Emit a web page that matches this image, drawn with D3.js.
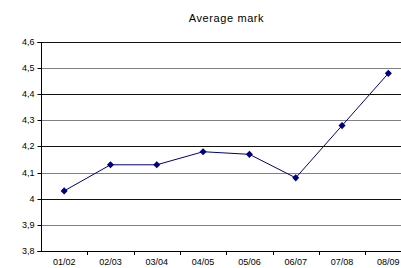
<!DOCTYPE html>
<html><head><meta charset="utf-8">
<script src="https://cdn.jsdelivr.net/npm/d3@7"></script>
<style>body{margin:0;background:#fff;overflow:hidden}svg{display:block}text{font-family:"Liberation Sans",Arial,sans-serif}</style>
</head><body>
<svg id="c" width="401" height="268"></svg>
<script>
const categories = ["01/02","02/03","03/04","04/05","05/06","06/07","07/08","08/09"];
const values = [4.03, 4.13, 4.13, 4.18, 4.17, 4.08, 4.28, 4.48];
const yTicks = [3.8, 3.9, 4.0, 4.1, 4.2, 4.3, 4.4, 4.5, 4.6];
const title = "Average mark";

const svg = d3.select("#c");
const m = {left: 41, top: 42, right: 411.5, bottom: 251};
const x = d3.scaleBand().domain(categories).range([m.left, m.right]);
const y = d3.scaleLinear().domain([3.8, 4.6]).range([m.bottom, m.top]);
const fmt = v => (Math.round(v*10)/10).toString().replace(".", ",");

// gridlines
svg.append("g").selectAll("line").data(yTicks.filter(t => t > 3.8)).join("line")
  .attr("x1", m.left).attr("x2", 401)
  .attr("y1", d => Math.round(y(d)) + 0.5).attr("y2", d => Math.round(y(d)) + 0.5)
  .attr("stroke", d => (Math.round(d*10) % 2 === 1) ? "#808080" : "#111")
  .attr("stroke-width", 1.2);

// y axis
const ya = svg.append("g").attr("transform", `translate(${m.left + 0.5},0)`)
  .call(d3.axisLeft(y).tickValues(yTicks).tickFormat(fmt).tickSize(4).tickPadding(3));
ya.select(".domain").attr("stroke", "#000").attr("d", `M-4,${Math.round(m.top)+0.5}H0V${m.bottom+0.5}H-4`);
ya.selectAll(".tick line").attr("stroke", "#000");
ya.selectAll(".tick").attr("transform", d => `translate(0,${Math.round(y(d))+0.5})`);
ya.selectAll("text").attr("font-size", "9px").attr("fill", "#000")
  .style("font-family", '"Liberation Sans",Arial,sans-serif');

// x axis
const xa = svg.append("g").attr("transform", `translate(0,${m.bottom + 0.5})`)
  .call(d3.axisBottom(x).tickSize(0).tickPadding(7));
xa.select(".domain").attr("stroke", "#000").attr("d", `M${m.left},0H${m.right}`);
xa.selectAll("text").attr("font-size", "9px").attr("fill", "#000")
  .style("font-family", '"Liberation Sans",Arial,sans-serif');
// category boundary ticks
const bounds = categories.map(c => x(c)).concat([m.right]).slice(1);
svg.append("g").selectAll("line").data(bounds).join("line")
  .attr("x1", d => Math.round(d)+0.5).attr("x2", d => Math.round(d)+0.5)
  .attr("y1", m.bottom).attr("y2", m.bottom + 4).attr("stroke", "#000");

// line
const cx = d => x(d) + x.bandwidth()/2;
const line = d3.line().x((d,i) => cx(categories[i])).y(d => y(d));
svg.append("path").datum(values).attr("d", line)
  .attr("fill", "none").attr("stroke", "#000080").attr("stroke-width", 1);

// markers
svg.append("g").selectAll("path").data(values).join("path")
  .attr("transform", (d,i) => `translate(${cx(categories[i])},${y(d)})`)
  .attr("d", d3.symbol(d3.symbolDiamond2, 32)())
  .attr("fill", "#000080");

// title
svg.append("text").attr("x", 226.5).attr("y", 22).attr("text-anchor", "middle")
  .attr("font-size", "11px").attr("letter-spacing", "0.6px").attr("fill", "#000").text(title);
</script>
</body></html>
